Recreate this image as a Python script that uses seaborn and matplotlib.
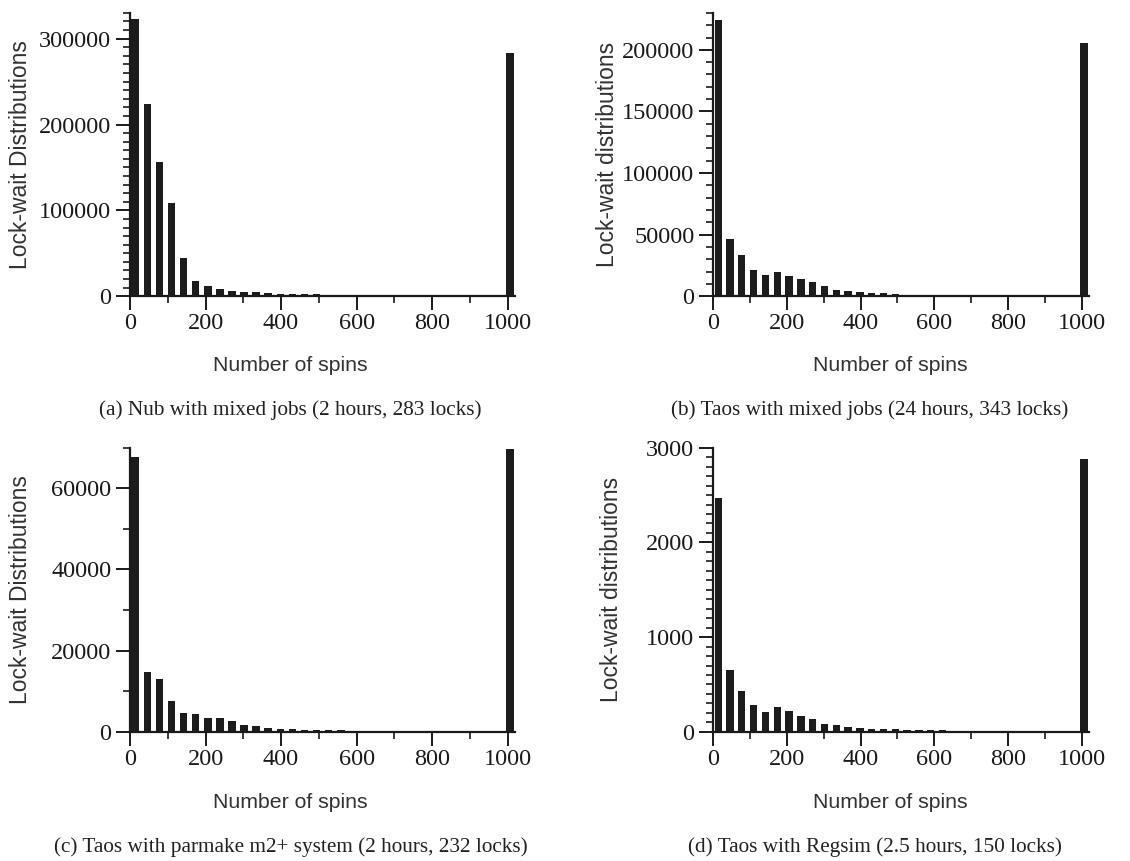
import matplotlib
matplotlib.use("Agg")
import matplotlib.pyplot as plt
from matplotlib.ticker import MultipleLocator, FuncFormatter
import numpy as np
import pandas as pd
import seaborn as sns

# bin centres (spins); last bin holds everything >= ~1000
spins = [14 + 32 * k for k in range(32)]

nub_mixed = [323000, 224000, 156000, 108000, 44600, 17800, 11600, 8500, 6600, 5000,
             4300, 3500, 3000, 2600, 2300, 2100, 1900, 1800, 1700, 1600,
             1500, 1500, 1400, 1400, 1300, 1300, 1300, 1200, 1200, 1200, 1200, 283500]
taos_mixed = [224300, 46800, 33200, 21100, 17000, 19700, 16200, 13800, 11600, 8100,
              5400, 4000, 3200, 2700, 2200, 1600, 1300, 1100, 1000, 900,
              800, 700, 600, 600, 500, 500, 500, 400, 400, 400, 400, 205700]
taos_parmake = [67800, 14750, 13100, 7600, 4700, 4500, 3500, 3400, 2600, 1700,
                1500, 1050, 800, 600, 500, 450, 400, 350, 300, 300,
                250, 250, 250, 200, 200, 200, 200, 200, 150, 150, 150, 69600]
taos_regsim = [2464, 654, 432, 281, 211, 260, 221, 165, 134, 88,
               70, 53, 39, 28, 32, 25, 20, 18, 15, 15,
               12, 12, 10, 10, 10, 8, 8, 8, 8, 8, 8, 2882]

ylabels = ["Lock-wait Distributions", "Lock-wait distributions",
           "Lock-wait Distributions", "Lock-wait distributions"]
captions = ["(a) Nub with mixed jobs (2 hours, 283 locks)",
            "(b) Taos with mixed jobs (24 hours, 343 locks)",
            "(c) Taos with parmake m2+ system (2 hours, 232 locks)",
            "(d) Taos with Regsim (2.5 hours, 150 locks)"]
ylims = [330000, 230000, 70000, 3000]
major_steps = [100000, 50000, 20000, 1000]
minor_steps = [10000, 10000, 10000, 100]

sns.set_style("ticks")
plt.rcParams["font.family"] = ["Liberation Serif", "DejaVu Serif"]
sans = ["Liberation Sans", "DejaVu Sans"]

fig = plt.figure(figsize=(11.3, 8.61), dpi=100)

# [left, bottom, width, height] in figure fractions
rects = [[0.115, 0.656, 0.341, 0.329],
         [0.631, 0.656, 0.333, 0.329],
         [0.115, 0.150, 0.341, 0.330],
         [0.631, 0.150, 0.333, 0.330]]
ylab_x = [-0.255, -0.25, -0.255, -0.24]
xlab_pos = [(0.415, -0.21), (0.47, -0.21), (0.415, -0.215), (0.47, -0.215)]
cap_pos = [(0.257, 0.524), (0.770, 0.524), (0.257, 0.016), (0.774, 0.016)]

series = [nub_mixed, taos_mixed, taos_parmake, taos_regsim]
bar_color = "#1c1c1c"

for i, values in enumerate(series):
    ax = fig.add_axes(rects[i])
    df = pd.DataFrame({"spins": spins, "count": values})
    sns.barplot(data=df, x="spins", y="count", native_scale=True, width=20 / 32,
                color=bar_color, edgecolor=bar_color, linewidth=0, errorbar=None, ax=ax)
    ax.set_xlim(0, 1020)
    ax.set_ylim(0, ylims[i])
    ax.xaxis.set_major_locator(MultipleLocator(200))
    ax.xaxis.set_minor_locator(MultipleLocator(100))
    ax.yaxis.set_major_locator(MultipleLocator(major_steps[i]))
    ax.yaxis.set_minor_locator(MultipleLocator(minor_steps[i]))
    ax.yaxis.set_major_formatter(FuncFormatter(lambda v, p: f"{int(v)}"))
    ax.xaxis.set_major_formatter(FuncFormatter(lambda v, p: f"{int(v)}"))
    ax.tick_params(axis="both", which="major", direction="out", length=10, width=1.4,
                   labelsize=17.5, color="#1a1a1a", labelcolor="#1a1a1a")
    ax.tick_params(axis="both", which="minor", direction="out", length=5, width=1.2,
                   color="#1a1a1a")
    ax.tick_params(axis="x", which="major", pad=2)
    for s in ["top", "right"]:
        ax.spines[s].set_visible(False)
    for s in ["left", "bottom"]:
        ax.spines[s].set_linewidth(1.6)
        ax.spines[s].set_color("#1a1a1a")
    ax.set_ylabel(ylabels[i], family=sans, fontsize=16.5, color="#333333")
    ax.yaxis.set_label_coords(ylab_x[i], 0.5)
    ax.set_xlabel("Number of spins", family=sans, fontsize=15.3, color="#333333")
    ax.xaxis.set_label_coords(*xlab_pos[i])
    fig.text(cap_pos[i][0], cap_pos[i][1], captions[i], ha="center", va="center",
             fontsize=15.3, color="#222222")

fig.savefig("out.png", dpi=100, facecolor="white")
